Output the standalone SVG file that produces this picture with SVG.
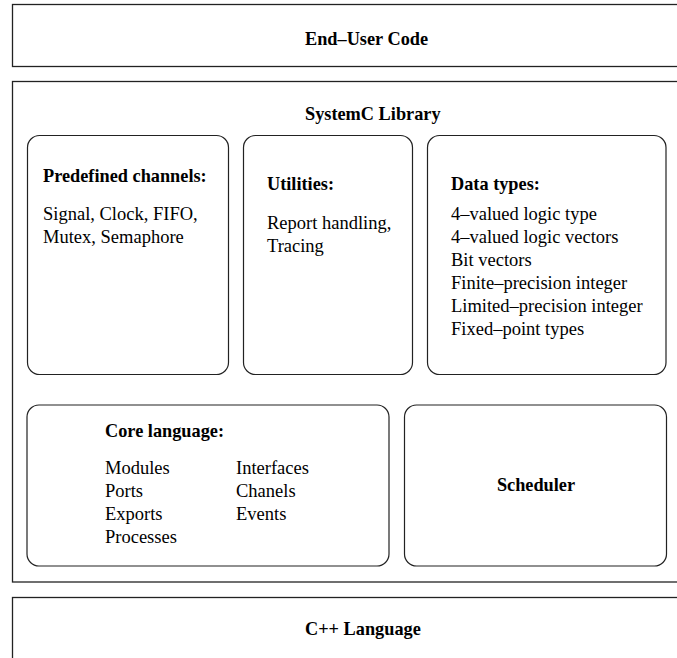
<svg xmlns="http://www.w3.org/2000/svg" width="677" height="658" viewBox="0 0 677 658">
<style>
.outer{fill:none;stroke:#222;stroke-width:1.3}
.inner{fill:none;stroke:#222;stroke-width:1.2}
text{font-family:"Liberation Serif","Times New Roman",serif;font-size:18.5px;fill:#000}
.b{font-weight:bold;font-size:18.3px}
</style>
<rect width="677" height="658" fill="#fff"/>
<g id="end-user-code">
<rect class="outer" x="12.5" y="4.5" width="700" height="62"/>
<text class="b" x="305" y="45">End–User Code</text>
</g>
<g id="systemc-library">
<rect class="outer" x="12.5" y="81.5" width="700" height="500.5"/>
<text class="b" x="305" y="120">SystemC Library</text>
</g>
<g id="predefined-channels">
<rect class="inner" x="27.5" y="135.5" width="201" height="239" rx="12"/>
<text class="b" x="43" y="182">Predefined channels:</text>
<text x="43" y="220">Signal, Clock, FIFO,</text>
<text x="43" y="243">Mutex, Semaphore</text>
</g>
<g id="utilities">
<rect class="inner" x="243.5" y="135.5" width="169" height="239" rx="12"/>
<text class="b" x="267" y="190">Utilities:</text>
<text x="267" y="229">Report handling,</text>
<text x="267" y="252">Tracing</text>
</g>
<g id="data-types">
<rect class="inner" x="427.5" y="135.5" width="238.5" height="239" rx="12"/>
<text class="b" x="451" y="190">Data types:</text>
<text x="451" y="220">4–valued logic type</text>
<text x="451" y="243">4–valued logic vectors</text>
<text x="451" y="266">Bit vectors</text>
<text x="451" y="289">Finite–precision integer</text>
<text x="451" y="312">Limited–precision integer</text>
<text x="451" y="335">Fixed–point types</text>
</g>
<g id="core-language">
<rect class="inner" x="27" y="405" width="362" height="161" rx="12"/>
<text class="b" x="105" y="437">Core language:</text>
<text x="105" y="474">Modules</text>
<text x="105" y="497">Ports</text>
<text x="105" y="520">Exports</text>
<text x="105" y="543">Processes</text>
<text x="236" y="474">Interfaces</text>
<text x="236" y="497">Chanels</text>
<text x="236" y="520">Events</text>
</g>
<g id="scheduler">
<rect class="inner" x="404.5" y="405" width="262" height="161" rx="12"/>
<text class="b" x="536" y="491" text-anchor="middle">Scheduler</text>
</g>
<g id="cpp-language">
<rect class="outer" x="12.5" y="597.5" width="700" height="100"/>
<text class="b" x="305" y="635">C++ Language</text>
</g>
<g id="connectors"></g>
</svg>
